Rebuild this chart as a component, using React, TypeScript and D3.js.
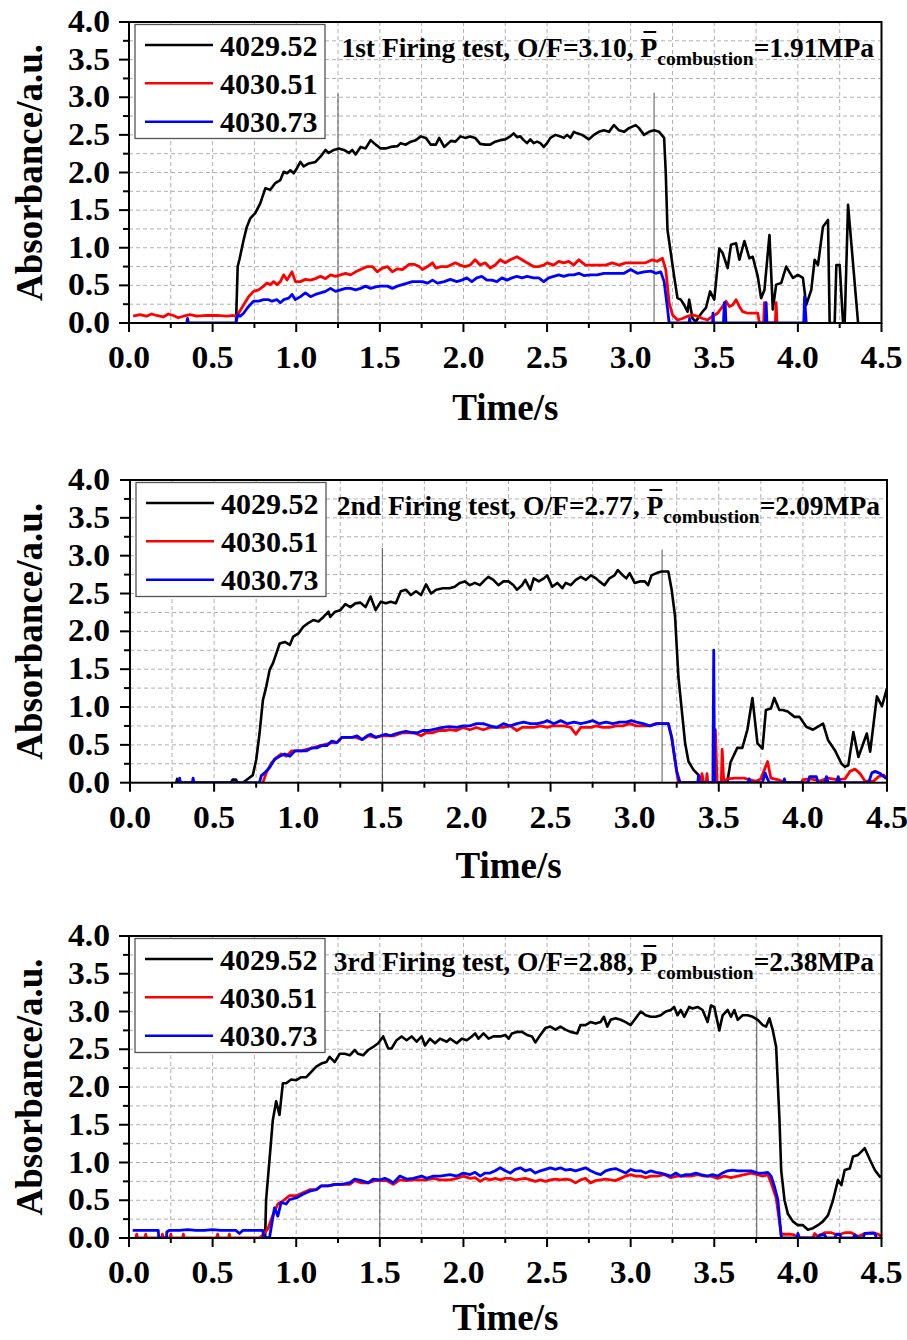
import React, { useEffect, useRef } from 'react';
import * as d3 from 'd3';

type Pt = [number, number];

// ---------- data ----------
const xTickValues = [0, 0.5, 1.0, 1.5, 2.0, 2.5, 3.0, 3.5, 4.0, 4.5];
const yTickValues = [0, 0.5, 1.0, 1.5, 2.0, 2.5, 3.0, 3.5, 4.0];
const seriesNames = ['4029.52', '4030.51', '4030.73'];
const seriesColors = ['#000000', '#ff0000', '#0000ff'];
const testOrdinals = ['1st', '2nd', '3rd'];
const ofRatios = ['3.10', '2.77', '2.88'];
const pressures = ['1.91', '2.09', '2.38'];
const xAxisTitle = 'Time/s';
const yAxisTitle = 'Absorbance/a.u.';

// vertical marker lines [time, height]
const markers1: Pt[] = [[1.25, 3.05], [3.14, 3.06]];
const markers2: Pt[] = [[1.5, 3.1], [3.163, 3.08]];
const markers3: Pt[] = [[1.5, 2.98], [3.754, 3.02]];

const test1Black: Pt[] = [
  [0.64, 0], [0.65, 0.75], [0.66, 0.84], [0.685, 1.10], [0.705, 1.28], [0.725, 1.39], [0.755, 1.46], [0.785, 1.59],
  [0.815, 1.79], [0.845, 1.77], [0.875, 1.86], [0.905, 1.90], [0.925, 2.01], [0.945, 1.99], [0.965, 2.03], [0.985, 1.99],
  [1.005, 2.06], [1.025, 2.14], [1.045, 2.08], [1.075, 2.12], [1.115, 2.14], [1.145, 2.21], [1.175, 2.30], [1.195, 2.26],
  [1.225, 2.30], [1.255, 2.32], [1.285, 2.30], [1.315, 2.26], [1.335, 2.30], [1.355, 2.24], [1.385, 2.34], [1.415, 2.32],
  [1.445, 2.43], [1.475, 2.37], [1.505, 2.32], [1.535, 2.32], [1.565, 2.34], [1.605, 2.35], [1.625, 2.39], [1.655, 2.37],
  [1.685, 2.41], [1.715, 2.43], [1.745, 2.48], [1.775, 2.46], [1.805, 2.37], [1.835, 2.37], [1.855, 2.46], [1.885, 2.34],
  [1.925, 2.42], [1.952, 2.41], [1.982, 2.48], [2.01, 2.46], [2.04, 2.48], [2.07, 2.46], [2.10, 2.38], [2.13, 2.37],
  [2.16, 2.37], [2.19, 2.41], [2.22, 2.43], [2.25, 2.44], [2.28, 2.48], [2.30, 2.52], [2.32, 2.47], [2.34, 2.48],
  [2.36, 2.43], [2.38, 2.39], [2.40, 2.44], [2.42, 2.39], [2.44, 2.41], [2.46, 2.39], [2.48, 2.34], [2.50, 2.39],
  [2.52, 2.46], [2.55, 2.50], [2.58, 2.48], [2.60, 2.46], [2.62, 2.50], [2.64, 2.46], [2.66, 2.54], [2.68, 2.52],
  [2.71, 2.50], [2.75, 2.44], [2.78, 2.50], [2.81, 2.54], [2.84, 2.56], [2.87, 2.54], [2.90, 2.63], [2.93, 2.56],
  [2.96, 2.54], [2.99, 2.59], [3.03, 2.63], [3.05, 2.59], [3.08, 2.50], [3.11, 2.54], [3.14, 2.56], [3.17, 2.54],
  [3.20, 2.46], [3.21, 1.99], [3.22, 1.24], [3.24, 0.93], [3.26, 0.62], [3.28, 0.33], [3.30, 0.31], [3.32, 0.24],
  [3.34, 0.15], [3.35, 0.31], [3.37, 0.06], [3.39, 0.02], [3.41, 0.09], [3.43, 0.15], [3.45, 0.20], [3.475, 0.42],
  [3.50, 0.31], [3.53, 0.99], [3.55, 0.93], [3.58, 0.73], [3.60, 1.04], [3.63, 1.06], [3.65, 0.84], [3.68, 1.09],
  [3.71, 0.86], [3.73, 0.88], [3.76, 0.62], [3.78, 0.33], [3.80, 0.44], [3.83, 1.17], [3.85, 0.18], [3.87, 0.51],
  [3.90, 0.53], [3.93, 0.75], [3.97, 0.60], [4.00, 0.64], [4.03, 0.60], [4.05, 0.24], [4.08, 0.44], [4.10, 0.84],
  [4.12, 0.77], [4.15, 1.28], [4.18, 1.37], [4.19, 0], [4.22, 0], [4.23, 0.77], [4.25, 0.77], [4.27, 0], [4.28, 0],
  [4.30, 1.57], [4.36, 0],
];

const test1Red: Pt[] = [
  [0.025, 0.09], [0.065, 0.11], [0.105, 0.09], [0.135, 0.12], [0.165, 0.10], [0.205, 0.08], [0.235, 0.12], [0.265, 0.10],
  [0.295, 0.07], [0.325, 0.09], [0.365, 0.11], [0.405, 0.09], [0.465, 0.10], [0.525, 0.10], [0.585, 0.09], [0.625, 0.10],
  [0.64, 0.09], [0.655, 0.13], [0.685, 0.24], [0.715, 0.35], [0.745, 0.42], [0.775, 0.44], [0.805, 0.49], [0.825, 0.53],
  [0.845, 0.51], [0.865, 0.55], [0.885, 0.51], [0.905, 0.55], [0.925, 0.64], [0.945, 0.57], [0.975, 0.68], [0.995, 0.55],
  [1.025, 0.55], [1.055, 0.58], [1.085, 0.57], [1.115, 0.59], [1.145, 0.62], [1.175, 0.59], [1.205, 0.64], [1.235, 0.62],
  [1.265, 0.64], [1.295, 0.66], [1.325, 0.64], [1.355, 0.68], [1.385, 0.71], [1.425, 0.75], [1.455, 0.75], [1.485, 0.68],
  [1.515, 0.73], [1.545, 0.75], [1.575, 0.68], [1.605, 0.72], [1.635, 0.71], [1.675, 0.78], [1.705, 0.78], [1.735, 0.75],
  [1.755, 0.71], [1.785, 0.75], [1.815, 0.80], [1.835, 0.73], [1.865, 0.75], [1.905, 0.75], [1.952, 0.80], [1.98, 0.77],
  [2.01, 0.75], [2.04, 0.77], [2.07, 0.84], [2.10, 0.77], [2.13, 0.80], [2.16, 0.73], [2.19, 0.77], [2.22, 0.84],
  [2.25, 0.80], [2.28, 0.84], [2.32, 0.88], [2.35, 0.84], [2.38, 0.80], [2.42, 0.75], [2.45, 0.75], [2.48, 0.77],
  [2.50, 0.80], [2.54, 0.77], [2.57, 0.82], [2.60, 0.80], [2.63, 0.82], [2.66, 0.77], [2.69, 0.84], [2.73, 0.77],
  [2.77, 0.77], [2.81, 0.77], [2.85, 0.77], [2.89, 0.80], [2.93, 0.77], [2.97, 0.80], [3.01, 0.80], [3.05, 0.80],
  [3.09, 0.80], [3.13, 0.84], [3.16, 0.82], [3.19, 0.86], [3.21, 0.71], [3.23, 0.27], [3.25, 0.11], [3.28, 0.04],
  [3.31, 0.06], [3.34, 0.09], [3.37, 0.11], [3.40, 0.09], [3.43, 0.06], [3.46, 0.04], [3.49, 0.09], [3.52, 0.13],
  [3.55, 0.22], [3.57, 0.29], [3.59, 0.22], [3.61, 0.24], [3.63, 0.31], [3.65, 0.22], [3.67, 0.15], [3.70, 0.13],
  [3.73, 0.13], [3.76, 0.13], [3.77, 0], [3.795, 0], [3.80, 0.27], [3.805, 0], [3.865, 0], [3.87, 0.27], [3.875, 0],
];

const test1Blue: Pt[] = [
  [0.345, 0], [0.35, 0.06], [0.355, 0], [0.64, 0],
  [0.65, 0.11], [0.665, 0.09], [0.685, 0.13], [0.715, 0.22], [0.745, 0.29], [0.775, 0.29], [0.805, 0.31], [0.835, 0.31],
  [0.855, 0.29], [0.885, 0.31], [0.905, 0.27], [0.925, 0.31], [0.955, 0.33], [0.975, 0.38], [0.995, 0.31], [1.025, 0.35],
  [1.055, 0.40], [1.085, 0.35], [1.115, 0.38], [1.145, 0.40], [1.175, 0.42], [1.205, 0.46], [1.235, 0.42], [1.265, 0.44],
  [1.295, 0.46], [1.325, 0.46], [1.355, 0.44], [1.385, 0.46], [1.415, 0.49], [1.445, 0.46], [1.475, 0.48], [1.505, 0.49],
  [1.545, 0.49], [1.575, 0.46], [1.605, 0.49], [1.635, 0.51], [1.665, 0.53], [1.695, 0.55], [1.725, 0.55], [1.755, 0.55],
  [1.785, 0.53], [1.815, 0.57], [1.845, 0.53], [1.885, 0.55], [1.922, 0.58], [1.96, 0.55], [1.99, 0.57], [2.02, 0.60],
  [2.05, 0.55], [2.08, 0.60], [2.11, 0.62], [2.14, 0.57], [2.17, 0.57], [2.20, 0.55], [2.23, 0.60], [2.26, 0.57],
  [2.29, 0.60], [2.32, 0.62], [2.35, 0.60], [2.38, 0.62], [2.42, 0.60], [2.45, 0.60], [2.48, 0.55], [2.51, 0.60],
  [2.54, 0.62], [2.57, 0.64], [2.60, 0.62], [2.63, 0.64], [2.66, 0.64], [2.69, 0.66], [2.72, 0.63], [2.76, 0.64],
  [2.80, 0.64], [2.84, 0.66], [2.88, 0.66], [2.92, 0.66], [2.96, 0.66], [3.00, 0.71], [3.04, 0.66], [3.08, 0.68],
  [3.12, 0.69], [3.15, 0.66], [3.18, 0.68], [3.20, 0.55], [3.22, 0.20], [3.23, 0],
  [3.35, 0], [3.352, 0.06], [3.356, 0], [3.49, 0], [3.492, 0.13], [3.496, 0], [3.555, 0], [3.56, 0.27], [3.565, 0.27],
  [3.57, 0], [3.805, 0], [3.81, 0.27], [3.815, 0], [4.035, 0], [4.04, 0.35], [4.05, 0],
];

const test2Black: Pt[] = [
  [0.275, 0], [0.28, 0.05], [0.285, 0], [0.60, 0], [0.61, 0.04], [0.63, 0.04], [0.64, 0],
  [0.67, 0], [0.70, 0.05], [0.73, 0.10], [0.75, 0.30], [0.77, 0.65], [0.79, 1.09], [0.81, 1.27], [0.83, 1.49],
  [0.85, 1.58], [0.87, 1.71], [0.89, 1.84], [0.92, 1.86], [0.95, 1.82], [0.97, 1.93], [1.00, 1.97], [1.03, 2.06],
  [1.06, 2.11], [1.09, 2.15], [1.12, 2.13], [1.15, 2.19], [1.18, 2.26], [1.19, 2.19], [1.22, 2.26], [1.25, 2.28],
  [1.28, 2.36], [1.31, 2.32], [1.34, 2.37], [1.37, 2.38], [1.40, 2.32], [1.43, 2.46], [1.46, 2.28], [1.49, 2.39],
  [1.52, 2.37], [1.55, 2.39], [1.58, 2.37], [1.61, 2.53], [1.64, 2.55], [1.67, 2.48], [1.70, 2.53], [1.73, 2.48],
  [1.76, 2.62], [1.79, 2.50], [1.82, 2.55], [1.86, 2.57], [1.90, 2.57], [1.93, 2.59], [1.96, 2.64], [1.99, 2.66],
  [2.02, 2.61], [2.05, 2.64], [2.08, 2.61], [2.11, 2.68], [2.13, 2.72], [2.16, 2.68], [2.19, 2.61], [2.22, 2.66],
  [2.25, 2.66], [2.28, 2.61], [2.30, 2.55], [2.33, 2.61], [2.35, 2.68], [2.38, 2.55], [2.40, 2.70], [2.43, 2.66],
  [2.46, 2.70], [2.48, 2.74], [2.51, 2.59], [2.54, 2.64], [2.57, 2.57], [2.59, 2.64], [2.62, 2.61], [2.65, 2.68],
  [2.68, 2.72], [2.71, 2.68], [2.74, 2.74], [2.77, 2.70], [2.79, 2.66], [2.82, 2.61], [2.85, 2.70], [2.88, 2.74],
  [2.90, 2.81], [2.93, 2.74], [2.95, 2.70], [2.97, 2.77], [3.00, 2.64], [3.03, 2.66], [3.06, 2.66], [3.08, 2.61],
  [3.10, 2.74], [3.13, 2.77], [3.16, 2.79], [3.20, 2.79], [3.22, 2.55], [3.24, 2.20], [3.25, 1.80], [3.26, 1.40],
  [3.28, 0.96], [3.30, 0.52], [3.32, 0.28], [3.35, 0.17], [3.38, 0.10], [3.41, 0], [3.55, 0], [3.57, 0.27],
  [3.61, 0.46], [3.64, 0.46], [3.67, 0.70], [3.70, 1.12], [3.73, 0.52], [3.76, 0.45], [3.78, 0.96], [3.81, 0.98],
  [3.83, 1.12], [3.86, 0.96], [3.88, 0.96], [3.91, 0.94], [3.95, 0.87], [3.98, 0.87], [4.02, 0.74], [4.06, 0.70],
  [4.09, 0.74], [4.12, 0.78], [4.15, 0.56], [4.19, 0.43], [4.23, 0.25], [4.25, 0.21], [4.27, 0.23], [4.30, 0.67],
  [4.33, 0.34], [4.38, 0.65], [4.40, 0.41], [4.44, 1.14], [4.47, 1.01], [4.50, 1.25],
];

const test2Red: Pt[] = [
  [0.79, 0], [0.81, 0.13], [0.84, 0.26], [0.87, 0.33], [0.90, 0.38], [0.93, 0.35], [0.96, 0.42], [0.99, 0.42],
  [1.02, 0.42], [1.05, 0.44], [1.09, 0.46], [1.13, 0.49], [1.17, 0.51], [1.20, 0.53], [1.23, 0.53], [1.26, 0.60],
  [1.30, 0.60], [1.34, 0.60], [1.38, 0.57], [1.42, 0.62], [1.46, 0.60], [1.50, 0.62], [1.54, 0.62], [1.57, 0.62],
  [1.62, 0.66], [1.66, 0.66], [1.69, 0.66], [1.73, 0.62], [1.76, 0.66], [1.80, 0.66], [1.84, 0.69], [1.88, 0.69],
  [1.90, 0.70], [1.94, 0.69], [1.98, 0.73], [2.02, 0.70], [2.06, 0.73], [2.10, 0.70], [2.14, 0.73], [2.18, 0.73],
  [2.22, 0.73], [2.26, 0.75], [2.30, 0.69], [2.33, 0.73], [2.36, 0.73], [2.40, 0.73], [2.44, 0.75], [2.48, 0.73],
  [2.51, 0.75], [2.54, 0.75], [2.58, 0.75], [2.62, 0.73], [2.65, 0.64], [2.68, 0.73], [2.72, 0.73], [2.74, 0.73],
  [2.77, 0.75], [2.81, 0.73], [2.85, 0.73], [2.89, 0.75], [2.93, 0.75], [2.97, 0.78], [3.01, 0.75], [3.05, 0.75],
  [3.09, 0.75], [3.13, 0.78], [3.17, 0.78], [3.20, 0.78], [3.22, 0.60], [3.24, 0.29], [3.26, 0],
  [3.395, 0], [3.40, 0.12], [3.41, 0], [3.425, 0], [3.43, 0.12], [3.435, 0], [3.475, 0], [3.48, 0.70], [3.49, 0],
  [3.515, 0], [3.52, 0.44], [3.53, 0], [3.55, 0.05], [3.60, 0.06], [3.65, 0.06], [3.68, 0.04], [3.72, 0.02],
  [3.75, 0.05], [3.79, 0.28], [3.81, 0.06], [3.85, 0.04], [3.90, 0], [3.99, 0], [4.00, 0.04], [4.05, 0.05],
  [4.10, 0.02], [4.15, 0.06], [4.20, 0.04], [4.25, 0.05], [4.28, 0.15], [4.31, 0.18], [4.34, 0.12], [4.37, 0.02],
  [4.42, 0.02], [4.45, 0.08], [4.48, 0.10], [4.50, 0.06],
];

const test2Blue: Pt[] = [
  [0.29, 0], [0.295, 0.06], [0.30, 0], [0.37, 0], [0.375, 0.06], [0.38, 0],
  [0.77, 0], [0.78, 0.09], [0.80, 0.13], [0.83, 0.20], [0.86, 0.31], [0.89, 0.35], [0.92, 0.38], [0.95, 0.35],
  [0.98, 0.42], [1.01, 0.42], [1.05, 0.42], [1.08, 0.46], [1.11, 0.46], [1.14, 0.49], [1.17, 0.49], [1.20, 0.55],
  [1.23, 0.53], [1.26, 0.60], [1.29, 0.60], [1.32, 0.60], [1.35, 0.62], [1.38, 0.57], [1.41, 0.62], [1.43, 0.64],
  [1.46, 0.60], [1.49, 0.62], [1.52, 0.64], [1.55, 0.62], [1.57, 0.64], [1.60, 0.66], [1.64, 0.68], [1.68, 0.66],
  [1.71, 0.66], [1.74, 0.69], [1.78, 0.69], [1.82, 0.71], [1.86, 0.73], [1.90, 0.74], [1.94, 0.73], [1.98, 0.75],
  [2.02, 0.75], [2.06, 0.78], [2.10, 0.78], [2.14, 0.75], [2.18, 0.73], [2.22, 0.78], [2.26, 0.75], [2.30, 0.78],
  [2.34, 0.80], [2.38, 0.78], [2.42, 0.78], [2.46, 0.80], [2.48, 0.82], [2.52, 0.78], [2.56, 0.82], [2.60, 0.78],
  [2.64, 0.80], [2.68, 0.78], [2.72, 0.80], [2.75, 0.82], [2.79, 0.78], [2.83, 0.80], [2.87, 0.78], [2.91, 0.80],
  [2.95, 0.80], [2.98, 0.82], [3.01, 0.80], [3.05, 0.78], [3.09, 0.75], [3.13, 0.78], [3.17, 0.78], [3.20, 0.78],
  [3.22, 0.60], [3.25, 0.15], [3.27, 0],
  [3.375, 0], [3.38, 0.10], [3.385, 0], [3.465, 0], [3.47, 1.75], [3.475, 0], [3.675, 0], [3.68, 0.05], [3.69, 0],
  [3.76, 0], [3.775, 0.13], [3.79, 0.05], [3.80, 0], [3.885, 0], [3.89, 0.05], [3.895, 0], [4.03, 0], [4.04, 0.08],
  [4.08, 0.08], [4.09, 0], [4.13, 0], [4.14, 0.08], [4.15, 0], [4.20, 0], [4.21, 0.08], [4.22, 0], [4.39, 0],
  [4.41, 0.13], [4.43, 0.15], [4.46, 0.12], [4.48, 0.08], [4.50, 0.05],
];

const test3Black: Pt[] = [
  [0.814, 0], [0.82, 0.51], [0.84, 1.03], [0.86, 1.56], [0.88, 1.81], [0.90, 1.63], [0.92, 2.05], [0.94, 2.05],
  [0.97, 2.10], [1.00, 2.09], [1.03, 2.13], [1.06, 2.13], [1.09, 2.20], [1.12, 2.27], [1.15, 2.31], [1.18, 2.33],
  [1.20, 2.40], [1.23, 2.33], [1.26, 2.44], [1.29, 2.44], [1.32, 2.42], [1.35, 2.49], [1.37, 2.44], [1.40, 2.42],
  [1.43, 2.49], [1.46, 2.53], [1.49, 2.58], [1.52, 2.67], [1.55, 2.51], [1.57, 2.51], [1.60, 2.62], [1.63, 2.67],
  [1.66, 2.62], [1.69, 2.67], [1.72, 2.60], [1.75, 2.67], [1.77, 2.55], [1.80, 2.64], [1.83, 2.58], [1.86, 2.64],
  [1.90, 2.60], [1.92, 2.64], [1.96, 2.58], [1.99, 2.64], [2.02, 2.62], [2.05, 2.67], [2.07, 2.71], [2.09, 2.64],
  [2.12, 2.71], [2.15, 2.64], [2.18, 2.67], [2.22, 2.67], [2.25, 2.69], [2.27, 2.64], [2.29, 2.71], [2.32, 2.73],
  [2.35, 2.73], [2.38, 2.69], [2.41, 2.67], [2.43, 2.59], [2.46, 2.69], [2.49, 2.78], [2.52, 2.80], [2.55, 2.76],
  [2.58, 2.80], [2.61, 2.76], [2.64, 2.73], [2.68, 2.71], [2.70, 2.82], [2.73, 2.82], [2.76, 2.86], [2.79, 2.84],
  [2.82, 2.86], [2.84, 2.93], [2.86, 2.80], [2.88, 2.89], [2.91, 2.91], [2.94, 2.89], [2.97, 2.86], [3.00, 2.82],
  [3.03, 2.91], [3.06, 3.00], [3.09, 2.95], [3.12, 2.93], [3.15, 2.93], [3.18, 2.95], [3.21, 3.00], [3.24, 3.02],
  [3.26, 3.06], [3.28, 2.95], [3.30, 3.02], [3.32, 2.93], [3.35, 3.06], [3.37, 3.04], [3.40, 3.06], [3.43, 3.02],
  [3.46, 2.86], [3.48, 3.08], [3.50, 3.06], [3.53, 2.75], [3.55, 2.95], [3.58, 3.02], [3.60, 2.93], [3.62, 3.02],
  [3.64, 2.89], [3.67, 2.95], [3.70, 2.95], [3.73, 2.93], [3.76, 2.89], [3.79, 2.82], [3.81, 2.80], [3.83, 2.91],
  [3.85, 2.75], [3.87, 2.53], [3.89, 1.56], [3.90, 0.90], [3.92, 0.50], [3.94, 0.32], [3.97, 0.22], [4.00, 0.17],
  [4.03, 0.17], [4.06, 0.11], [4.09, 0.13], [4.12, 0.17], [4.15, 0.22], [4.18, 0.30], [4.21, 0.50], [4.24, 0.77],
  [4.26, 0.70], [4.28, 0.90], [4.31, 0.92], [4.33, 1.08], [4.36, 1.10], [4.40, 1.19], [4.43, 1.04], [4.46, 0.90],
  [4.49, 0.81], [4.51, 0.83],
];

const test3Red: Pt[] = [
  [0.04, 0], [0.046, 0.05], [0.052, 0], [0.095, 0], [0.10, 0.05], [0.105, 0], [0.195, 0], [0.20, 0.05], [0.205, 0],
  [0.245, 0], [0.25, 0.05], [0.255, 0], [0.32, 0], [0.325, 0.05], [0.33, 0], [0.525, 0], [0.53, 0.05], [0.535, 0],
  [0.595, 0], [0.60, 0.05], [0.605, 0], [0.78, 0], [0.80, 0.04], [0.83, 0.12], [0.86, 0.30], [0.89, 0.45],
  [0.92, 0.49], [0.96, 0.56], [1.00, 0.56], [1.04, 0.60], [1.08, 0.64], [1.12, 0.64], [1.15, 0.69], [1.19, 0.69],
  [1.24, 0.71], [1.28, 0.71], [1.32, 0.71], [1.35, 0.76], [1.39, 0.73], [1.43, 0.73], [1.47, 0.76], [1.50, 0.76],
  [1.54, 0.76], [1.58, 0.71], [1.62, 0.77], [1.66, 0.76], [1.70, 0.77], [1.74, 0.77], [1.78, 0.77], [1.82, 0.79],
  [1.86, 0.77], [1.92, 0.77], [1.96, 0.79], [2.00, 0.82], [2.04, 0.79], [2.07, 0.80], [2.10, 0.75], [2.13, 0.79],
  [2.16, 0.77], [2.19, 0.79], [2.22, 0.77], [2.25, 0.79], [2.28, 0.79], [2.31, 0.77], [2.34, 0.78], [2.37, 0.79],
  [2.40, 0.77], [2.43, 0.75], [2.46, 0.77], [2.49, 0.75], [2.52, 0.77], [2.55, 0.78], [2.58, 0.77], [2.61, 0.78],
  [2.64, 0.77], [2.67, 0.73], [2.70, 0.77], [2.73, 0.79], [2.76, 0.73], [2.79, 0.76], [2.82, 0.77], [2.85, 0.78],
  [2.88, 0.77], [2.91, 0.76], [2.94, 0.79], [2.97, 0.82], [3.00, 0.84], [3.03, 0.82], [3.06, 0.82], [3.09, 0.80],
  [3.12, 0.82], [3.16, 0.82], [3.20, 0.84], [3.24, 0.80], [3.28, 0.82], [3.32, 0.82], [3.36, 0.82], [3.40, 0.84],
  [3.44, 0.82], [3.48, 0.82], [3.52, 0.79], [3.56, 0.82], [3.60, 0.80], [3.64, 0.82], [3.68, 0.84], [3.72, 0.86],
  [3.76, 0.84], [3.79, 0.82], [3.82, 0.84], [3.84, 0.73], [3.87, 0.53], [3.90, 0.05], [3.95, 0.05], [3.98, 0.04],
  [4.00, 0], [4.09, 0], [4.10, 0.06], [4.12, 0.02], [4.16, 0.07], [4.20, 0.07], [4.24, 0.04], [4.28, 0.07],
  [4.32, 0.07], [4.36, 0.02], [4.40, 0.06], [4.45, 0.07], [4.48, 0.05], [4.50, 0.02],
];

const test3Blue: Pt[] = [
  [0.022, 0.10], [0.06, 0.10], [0.10, 0.10], [0.14, 0.10], [0.175, 0.10], [0.178, 0], [0.224, 0], [0.226, 0.08],
  [0.24, 0.10], [0.30, 0.10], [0.35, 0.11], [0.40, 0.10], [0.45, 0.10], [0.50, 0.11], [0.55, 0.10], [0.60, 0.10],
  [0.64, 0.10], [0.66, 0.06], [0.68, 0.10], [0.72, 0.10], [0.76, 0.10], [0.80, 0.10], [0.805, 0.02], [0.84, 0],
  [0.87, 0.40], [0.89, 0.29], [0.91, 0.47], [0.94, 0.45], [0.96, 0.51], [1.00, 0.53], [1.04, 0.58], [1.08, 0.62],
  [1.12, 0.64], [1.15, 0.69], [1.19, 0.69], [1.23, 0.71], [1.27, 0.71], [1.32, 0.73], [1.35, 0.78], [1.39, 0.76],
  [1.43, 0.73], [1.46, 0.78], [1.50, 0.77], [1.53, 0.79], [1.56, 0.76], [1.58, 0.73], [1.62, 0.82], [1.66, 0.78],
  [1.70, 0.79], [1.75, 0.82], [1.78, 0.79], [1.82, 0.82], [1.86, 0.82], [1.92, 0.84], [1.96, 0.82], [2.00, 0.86],
  [2.04, 0.84], [2.07, 0.87], [2.10, 0.82], [2.13, 0.86], [2.16, 0.86], [2.19, 0.89], [2.22, 0.93], [2.25, 0.89],
  [2.28, 0.86], [2.31, 0.91], [2.34, 0.93], [2.37, 0.89], [2.40, 0.91], [2.43, 0.86], [2.46, 0.89], [2.49, 0.91],
  [2.52, 0.93], [2.55, 0.91], [2.58, 0.93], [2.61, 0.90], [2.64, 0.91], [2.67, 0.89], [2.70, 0.91], [2.73, 0.93],
  [2.76, 0.89], [2.79, 0.86], [2.82, 0.84], [2.85, 0.89], [2.88, 0.91], [2.91, 0.92], [2.94, 0.89], [2.97, 0.86],
  [3.00, 0.91], [3.03, 0.89], [3.06, 0.89], [3.09, 0.86], [3.12, 0.89], [3.15, 0.87], [3.18, 0.86], [3.21, 0.84],
  [3.24, 0.82], [3.27, 0.86], [3.30, 0.82], [3.33, 0.84], [3.36, 0.84], [3.39, 0.86], [3.42, 0.84], [3.46, 0.82],
  [3.49, 0.84], [3.52, 0.82], [3.55, 0.86], [3.58, 0.89], [3.61, 0.90], [3.64, 0.89], [3.68, 0.89], [3.72, 0.89],
  [3.76, 0.86], [3.79, 0.86], [3.82, 0.87], [3.84, 0.82], [3.86, 0.68], [3.88, 0.51], [3.90, 0.02], [3.91, 0],
  [3.995, 0], [4.00, 0.06], [4.01, 0], [4.12, 0], [4.13, 0.04], [4.16, 0.04], [4.17, 0], [4.22, 0], [4.23, 0.05],
  [4.25, 0.05], [4.26, 0], [4.33, 0], [4.34, 0.04], [4.36, 0], [4.39, 0], [4.40, 0.06], [4.46, 0.06], [4.47, 0],
];

const panelSeries: Pt[][][] = [
  [test1Black, test1Red, test1Blue],
  [test2Black, test2Red, test2Blue],
  [test3Black, test3Red, test3Blue],
];
const panelMarkers: Pt[][] = [markers1, markers2, markers3];

// ---------- layout ----------
const FONT = '"Liberation Serif", "Times New Roman", Times, serif';
const layouts = [
  { left: 129, right: 881.5, top: 22, bottom: 323, annoEnd: 874, titleOff: 97 },
  { left: 130, right: 887, top: 480, bottom: 782.7, annoEnd: 880, titleOff: 95 },
  { left: 129, right: 881.5, top: 936, bottom: 1238, annoEnd: 874, titleOff: 92 },
];
const strokeWidths = [2.6, 2.8, 2.8];

function Panel({ i }: { i: number }) {
  const L = layouts[i];
  const x = d3.scaleLinear().domain([0, 4.5]).range([L.left, L.right]);
  const y = d3.scaleLinear().domain([0, 4]).range([L.bottom, L.top]);
  const line = d3.line<Pt>().x((d) => x(d[0])).y((d) => y(d[1]));
  const gridX = d3.range(1, 18).map((k) => k * 0.25);
  const gridY = d3.range(1, 16).map((k) => k * 0.25);
  const allX = d3.range(0, 19).map((k) => k * 0.25);
  const allY = d3.range(0, 17).map((k) => k * 0.25);
  const isMajor = (v: number) => Math.abs(v * 2 - Math.round(v * 2)) < 1e-6;
  const clipId = `plotclip${i}`;
  const cx = (L.left + L.right) / 2;
  const cy = (L.top + L.bottom) / 2;
  const legX = L.left + 6;
  const legY = L.top + 2.5;
  const rowOffsets = [23, 61.3, 99.7];

  return (
    <g>
      <defs>
        <clipPath id={clipId}>
          <rect x={L.left} y={L.top} width={L.right - L.left} height={L.bottom - L.top} />
        </clipPath>
      </defs>
      {/* grid */}
      <g stroke="#b0b0b0" strokeWidth={1} strokeDasharray="4,3">
        {gridX.map((v) => (
          <line key={'gx' + v} x1={x(v)} x2={x(v)} y1={L.top} y2={L.bottom} />
        ))}
        {gridY.map((v) => (
          <line key={'gy' + v} x1={L.left} x2={L.right} y1={y(v)} y2={y(v)} />
        ))}
      </g>
      {/* marker lines */}
      {panelMarkers[i].map((m, k) => (
        <line key={'m' + k} x1={x(m[0])} x2={x(m[0])} y1={y(0)} y2={y(m[1])} stroke="#555" strokeWidth={1} />
      ))}
      {/* series */}
      <g clipPath={`url(#${clipId})`}>
        {panelSeries[i].map((s, k) => (
          <path
            key={'s' + k}
            d={line(s) || ''}
            fill="none"
            stroke={seriesColors[k]}
            strokeWidth={strokeWidths[k]}
            strokeLinejoin="round"
          />
        ))}
      </g>
      {/* frame */}
      <rect
        x={L.left}
        y={L.top}
        width={L.right - L.left}
        height={L.bottom - L.top}
        fill="none"
        stroke="#000"
        strokeWidth={2}
      />
      {/* x ticks */}
      {allX.map((v) => (
        <line
          key={'tx' + v}
          x1={x(v)}
          x2={x(v)}
          y1={L.bottom}
          y2={L.bottom + (isMajor(v) ? 9 : 5)}
          stroke="#000"
          strokeWidth={2}
        />
      ))}
      {allY.map((v) => (
        <line
          key={'ty' + v}
          x1={L.left - (isMajor(v) ? 10 : 6)}
          x2={L.left}
          y1={y(v)}
          y2={y(v)}
          stroke="#000"
          strokeWidth={2}
        />
      ))}
      {/* tick labels */}
      <g fontFamily={FONT} fontWeight="bold" fontSize={32} fill="#000">
        {xTickValues.map((v) => (
          <text key={'lx' + v} transform={`translate(${x(v)},${L.bottom + 45}) scale(1.05,1)`} textAnchor="middle">
            {v.toFixed(1)}
          </text>
        ))}
        {yTickValues.map((v) => (
          <text key={'ly' + v} transform={`translate(110,${y(v) + 10}) scale(1.05,1)`} textAnchor="end">
            {v.toFixed(1)}
          </text>
        ))}
      </g>
      {/* axis titles */}
      <text x={cx} y={L.bottom + L.titleOff} textAnchor="middle" fontFamily={FONT} fontWeight="bold" fontSize={37}>
        {xAxisTitle}
      </text>
      <text
        transform={`translate(42,${cy}) rotate(-90)`}
        textAnchor="middle"
        fontFamily={FONT}
        fontWeight="bold"
        fontSize={37}
      >
        {yAxisTitle}
      </text>
      {/* legend */}
      <rect x={legX} y={legY} width={190} height={114} fill="#fff" stroke="#555" strokeWidth={1.3} />
      {seriesNames.map((name, k) => (
        <g key={'leg' + k}>
          <line
            x1={L.left + 16}
            x2={L.left + 84}
            y1={L.top + rowOffsets[k]}
            y2={L.top + rowOffsets[k]}
            stroke={seriesColors[k]}
            strokeWidth={2.4}
          />
          <text
            x={L.left + 91}
            y={L.top + rowOffsets[k] + 10.5}
            fontFamily={FONT}
            fontWeight="bold"
            fontSize={30}
          >
            {name}
          </text>
        </g>
      ))}
      {/* annotation */}
      <text
        className="anno"
        data-pindex={`${testOrdinals[i]} Firing test, O/F=${ofRatios[i]}, `.length}
        x={L.annoEnd}
        y={L.top + 35}
        textAnchor="end"
        fontFamily={FONT}
        fontWeight="bold"
        fontSize={27.5}
      >
        <tspan>{`${testOrdinals[i]} Firing test, O/F=${ofRatios[i]}, `}</tspan>
        <tspan>P</tspan>
        <tspan fontSize={19.5} dy={8}>
          combustion
        </tspan>
        <tspan dy={-8}>{`=${pressures[i]}MPa`}</tspan>
      </text>
    </g>
  );
}

export default function App() {
  const ref = useRef<SVGSVGElement>(null);
  useEffect(() => {
    if (!ref.current) return;
    const svg = d3.select(ref.current);
    svg.selectAll('.overbar').remove();
    svg.selectAll<SVGTextElement, unknown>('text.anno').each(function () {
      const idx = Number(this.getAttribute('data-pindex'));
      const baseY = Number(this.getAttribute('y'));
      try {
        const ext = this.getExtentOfChar(idx);
        svg
          .append('line')
          .attr('class', 'overbar')
          .attr('x1', ext.x + 3)
          .attr('x2', ext.x + ext.width - 1)
          .attr('y1', baseY - 25)
          .attr('y2', baseY - 25)
          .attr('stroke', '#000')
          .attr('stroke-width', 2);
      } catch (e) {
        /* ignore */
      }
    });
  }, []);

  return (
    <svg
      ref={ref}
      width={907}
      height={1340}
      style={{ position: 'absolute', left: 0, top: 0, background: '#fff' }}
    >
      <rect x={0} y={0} width={907} height={1340} fill="#fff" />
      {[0, 1, 2].map((i) => (
        <Panel key={i} i={i} />
      ))}
    </svg>
  );
}
